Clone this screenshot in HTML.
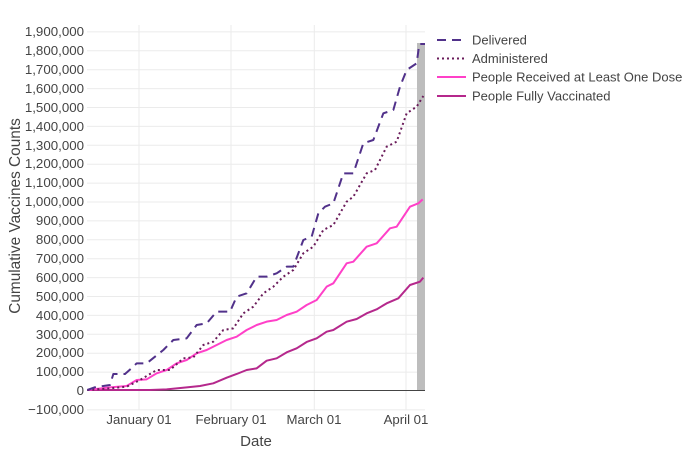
<!DOCTYPE html>
<html><head><meta charset="utf-8"><style>
html,body{margin:0;padding:0;background:#fff;}
svg{display:block;font-family:"Liberation Sans","DejaVu Sans",sans-serif;}
</style></head><body>
<svg width="700" height="450" viewBox="0 0 700 450" xmlns="http://www.w3.org/2000/svg">
<rect width="700" height="450" fill="#fff"/>
<g stroke="#ebebeb" stroke-width="1">
<line x1="87" x2="425" y1="31.9" y2="31.9"/><line x1="87" x2="425" y1="50.8" y2="50.8"/><line x1="87" x2="425" y1="69.7" y2="69.7"/><line x1="87" x2="425" y1="88.6" y2="88.6"/><line x1="87" x2="425" y1="107.5" y2="107.5"/><line x1="87" x2="425" y1="126.4" y2="126.4"/><line x1="87" x2="425" y1="145.3" y2="145.3"/><line x1="87" x2="425" y1="164.2" y2="164.2"/><line x1="87" x2="425" y1="183.1" y2="183.1"/><line x1="87" x2="425" y1="202" y2="202"/><line x1="87" x2="425" y1="220.9" y2="220.9"/><line x1="87" x2="425" y1="239.8" y2="239.8"/><line x1="87" x2="425" y1="258.7" y2="258.7"/><line x1="87" x2="425" y1="277.6" y2="277.6"/><line x1="87" x2="425" y1="296.5" y2="296.5"/><line x1="87" x2="425" y1="315.4" y2="315.4"/><line x1="87" x2="425" y1="334.3" y2="334.3"/><line x1="87" x2="425" y1="353.2" y2="353.2"/><line x1="87" x2="425" y1="372.1" y2="372.1"/><line x1="87" x2="425" y1="409.9" y2="409.9"/>
<line x1="139" x2="139" y1="25" y2="410"/><line x1="231" x2="231" y1="25" y2="410"/><line x1="314.3" x2="314.3" y1="25" y2="410"/><line x1="406" x2="406" y1="25" y2="410"/>
</g>
<rect x="417" y="43" width="8" height="347" fill="#bdbdbd"/>
<line x1="87" x2="425" y1="390.5" y2="390.5" stroke="#444" stroke-width="1"/>
<g font-size="13.3" fill="#444" text-anchor="end">
<text x="84" y="36">1,900,000</text><text x="84" y="55">1,800,000</text><text x="84" y="74">1,700,000</text><text x="84" y="93">1,600,000</text><text x="84" y="112">1,500,000</text><text x="84" y="131">1,400,000</text><text x="84" y="150">1,300,000</text><text x="84" y="168">1,200,000</text><text x="84" y="187">1,100,000</text><text x="84" y="206">1,000,000</text><text x="84" y="225">900,000</text><text x="84" y="244">800,000</text><text x="84" y="263">700,000</text><text x="84" y="282">600,000</text><text x="84" y="301">500,000</text><text x="84" y="320">400,000</text><text x="84" y="339">300,000</text><text x="84" y="357">200,000</text><text x="84" y="376">100,000</text><text x="84" y="395">0</text><text x="84" y="414">−100,000</text>
</g>
<g font-size="13.2" fill="#444" text-anchor="middle">
<text x="139" y="424">January 01</text><text x="231" y="424">February 01</text><text x="314" y="424">March 01</text><text x="406" y="424">April 01</text>
</g>
<text x="256" y="446" font-size="15" fill="#444" text-anchor="middle">Date</text>
<text transform="translate(20,216) rotate(-90)" font-size="15.4" fill="#444" text-anchor="middle">Cumulative Vaccines Counts</text>
<g transform="translate(0,20) scale(0.33333)" fill="none" stroke-linejoin="round">
<polyline stroke="#b5288c" stroke-width="6" points="262,1110 450,1110 500,1108 560,1102 600,1098 640,1090 680,1073 710,1062 740,1050 770,1045 800,1022 830,1015 860,997 890,985 920,966 950,955 980,935 1000,930 1040,905 1070,897 1100,880 1130,868 1160,850 1195,835 1230,795 1260,785 1270,773"/>
<polyline stroke="#ff40c8" stroke-width="6" points="262,1110 330,1102 380,1098 410,1080 440,1078 470,1060 500,1050 530,1030 560,1020 590,1000 620,990 650,975 680,960 710,950 740,930 770,915 800,905 830,900 860,885 890,875 920,855 950,840 980,800 1000,790 1040,730 1060,725 1100,680 1130,670 1170,625 1190,620 1230,560 1255,550 1268,538"/>
<polyline stroke="#6a1b5a" stroke-width="6" stroke-dasharray="6,9" points="262,1110 330,1105 380,1100 420,1080 470,1050 510,1050 550,1015 580,1012 610,975 640,965 670,930 700,925 730,880 760,860 790,820 820,800 850,770 880,750 910,700 940,680 970,630 1000,615 1040,545 1060,530 1100,460 1125,450 1160,380 1190,365 1220,280 1250,260 1270,228"/>
<polyline stroke="#51318a" stroke-width="6" stroke-dasharray="27,18" points="262,1110 290,1100 310,1098 330,1095 340,1062 375,1062 400,1040 410,1030 440,1030 490,990 520,960 560,955 590,915 620,910 650,875 690,875 710,830 740,820 770,770 800,770 830,760 860,740 880,740 910,660 935,650 955,580 975,560 1000,550 1030,460 1060,460 1090,370 1120,360 1150,280 1180,270 1200,200 1220,150 1250,130 1258,72 1275,72"/>
</g>
<g font-size="13" fill="#444">
<line x1="437" x2="466" y1="40" y2="40" stroke="#51318a" stroke-width="2" stroke-dasharray="9,6"/><text x="472" y="44.5">Delivered</text>
<line x1="437" x2="466" y1="58.5" y2="58.5" stroke="#6a1b5a" stroke-width="2" stroke-dasharray="2,3"/><text x="472" y="63">Administered</text>
<line x1="437" x2="466" y1="77" y2="77" stroke="#ff40c8" stroke-width="2"/><text x="472" y="81.5">People Received at Least One Dose</text>
<line x1="437" x2="466" y1="96" y2="96" stroke="#b5288c" stroke-width="2"/><text x="472" y="100.5">People Fully Vaccinated</text>
</g>
</svg>
</body></html>
